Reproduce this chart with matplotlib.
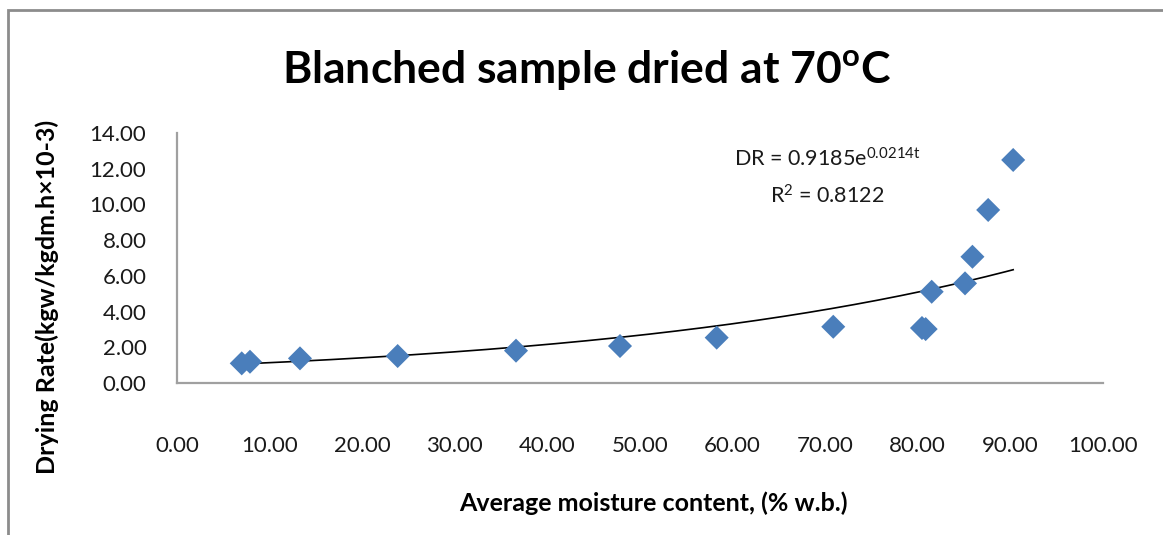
import numpy as np
import matplotlib
matplotlib.use("Agg")
import matplotlib.pyplot as plt
from matplotlib.patches import Rectangle

# Data
moisture = [6.99, 7.88, 13.28, 23.83, 36.61, 47.84, 58.28, 70.87, 80.45, 80.85, 81.5, 85.1, 85.9, 87.6, 90.3]
drying_rate = [1.10, 1.19, 1.38, 1.51, 1.81, 2.07, 2.54, 3.15, 3.08, 3.02, 5.11, 5.58, 7.07, 9.69, 12.49]
fit_a = 0.9185
fit_b = 0.0214
x_ticks = [0, 10, 20, 30, 40, 50, 60, 70, 80, 90, 100]
y_ticks = [0, 2, 4, 6, 8, 10, 12, 14]

plt.rcParams['font.family'] = ['Lato', 'DejaVu Sans']
plt.rcParams['mathtext.fontset'] = 'custom'
plt.rcParams['mathtext.rm'] = 'Lato'
plt.rcParams['mathtext.it'] = 'Lato:italic'
plt.rcParams['mathtext.bf'] = 'Lato:bold'

fig = plt.figure(figsize=(11.63, 5.35), dpi=100)
W, H = 1163, 535
ax = fig.add_axes([177 / W, 1 - 383 / H, (1103 - 177) / W, (383 - 133) / H])

# trendline
xs = np.linspace(min(moisture), max(moisture), 200)
ax.plot(xs, fit_a * np.exp(fit_b * xs), color='black', lw=1.2, zorder=2)

ax.scatter(moisture, drying_rate, marker='D', s=150, color='#4a7ebb', edgecolors='none', zorder=3)

ax.set_xlim(0, 100)
ax.set_ylim(0, 14)
ax.set_xticks(x_ticks)
ax.set_yticks(y_ticks)
ax.set_xticklabels([f"{v:.2f}" for v in x_ticks], fontsize=16, color='#1a1a1a')
ax.set_yticklabels([f"{v:.2f}" for v in y_ticks], fontsize=16, color='#1a1a1a')
ax.tick_params(axis='both', length=0)
ax.tick_params(axis='x', pad=38)
ax.tick_params(axis='y', pad=22)

for side in ['top', 'right']:
    ax.spines[side].set_visible(False)
for side in ['left', 'bottom']:
    ax.spines[side].set_color('#a0a0a0')
    ax.spines[side].set_linewidth(1.6)

ax.text(70.2, 12.55, r"DR = 0.9185e$^{\mathrm{0.0214t}}$", ha='center', va='center', fontsize=15.5, color='#1a1a1a')
ax.text(70.2, 10.45, r"R$^{\mathrm{2}}$ = 0.8122", ha='center', va='center', fontsize=15.5, color='#1a1a1a')

fig.text(587 / W, 1 - 70 / H, r"Blanched sample dried at 70$^{\mathbf{o}}$C", ha='center', va='center',
         fontsize=32, fontweight='bold', color='black')
fig.text(653 / W, 1 - 503 / H, "Average moisture content, (% w.b.)", ha='center', va='center',
         fontsize=18, fontweight='bold', color='black')
fig.text(47 / W, 1 - 297 / H, "Drying Rate(kgw/kgdm.h×10-3)", ha='center', va='center', rotation=90,
         fontsize=18, fontweight='bold', color='black')

# outer chart frame
fig.patches.append(Rectangle((8 / W, -0.05), 1.2, 1 - 10 / H + 0.05, transform=fig.transFigure,
                             fill=False, edgecolor='#8c8c8c', lw=2))

fig.savefig("out.png", dpi=100)
